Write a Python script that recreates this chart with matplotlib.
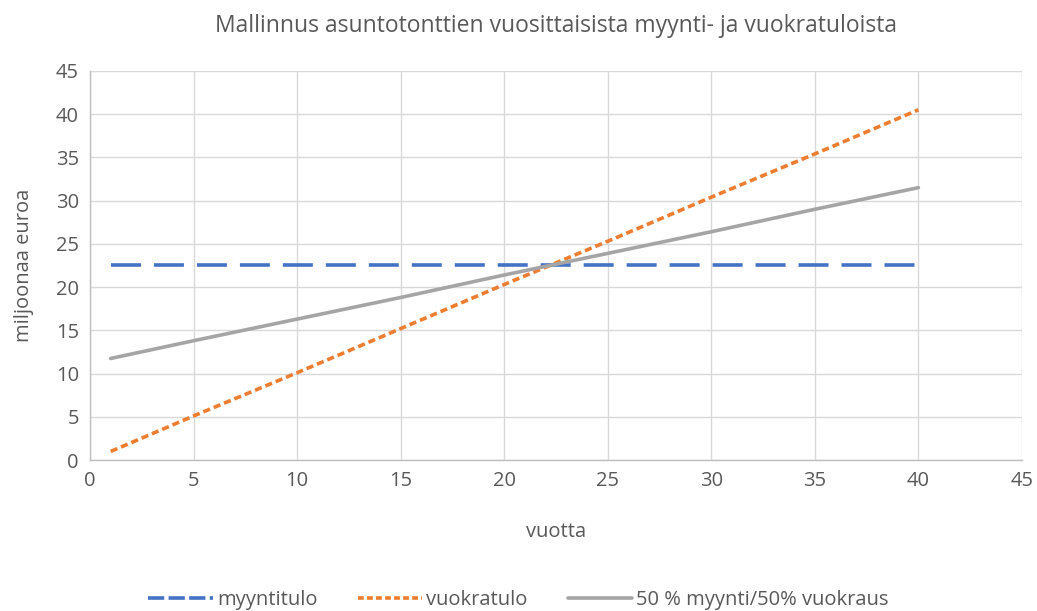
import matplotlib
matplotlib.use("Agg")
import matplotlib.pyplot as plt

plt.rcParams['font.family'] = ['Open Sans', 'DejaVu Sans']

# vuodet ja tulot (miljoonaa euroa)
vuodet = [1, 5, 10, 15, 20, 25, 30, 35, 40]
myyntitulo = [22.5, 22.5, 22.5, 22.5, 22.5, 22.5, 22.5, 22.5, 22.5]
vuokratulo = [1.0, 5.1, 10.1, 15.2, 20.3, 25.3, 30.4, 35.4, 40.5]
puolet = [11.75, 13.8, 16.3, 18.8, 21.4, 23.9, 26.4, 29.0, 31.5]

x_ticks = [0, 5, 10, 15, 20, 25, 30, 35, 40, 45]
y_ticks = [0, 5, 10, 15, 20, 25, 30, 35, 40, 45]

text_col = '#595959'
grid_col = '#d9d9d9'

fig = plt.figure(figsize=(10.37, 6.11), dpi=100)
ax = fig.add_axes([0.0868, 0.247, 0.8987, 0.637])

ax.plot(vuodet, myyntitulo, color='#4472c4', lw=2.6, dashes=(8.3, 3.6),
        label='myyntitulo', dash_capstyle='butt')
ax.plot(vuodet, vuokratulo, color='#ed7d31', lw=2.6, dashes=(2.0, 1.1),
        label='vuokratulo', dash_capstyle='butt')
ax.plot(vuodet, puolet, color='#a5a5a5', lw=2.6,
        label='50 % myynti/50% vuokraus', solid_capstyle='round')

ax.set_xlim(0, 45)
ax.set_ylim(0, 45)
ax.set_xticks(x_ticks)
ax.set_yticks(y_ticks)
ax.grid(True, color=grid_col, lw=1)
ax.set_axisbelow(True)
for s in ['top', 'right']:
    ax.spines[s].set_visible(False)
for s in ['left', 'bottom']:
    ax.spines[s].set_color('#bfbfbf')
    ax.spines[s].set_linewidth(1)
ax.tick_params(length=0, labelsize=14.5, colors=text_col, pad=8)

ax.set_title('Mallinnus asuntotonttien vuosittaisista myynti- ja vuokratuloista',
             fontsize=16.5, color=text_col, pad=28)
ax.set_xlabel('vuotta', fontsize=14.5, color=text_col, labelpad=22)
ax.set_ylabel('miljoonaa euroa', fontsize=14.5, color=text_col, labelpad=16)

leg = fig.legend(loc='center', bbox_to_anchor=(0.5, 0.018), ncol=3, frameon=False,
                 fontsize=14.5, handlelength=3.2, columnspacing=2.0, handletextpad=0.2,
                 labelcolor=text_col)
leg.get_lines()[0].set_dashes((4.5, 1.2))
leg.get_lines()[1].set_dashes((1.6, 0.9))

fig.savefig('out.png', dpi=100)
